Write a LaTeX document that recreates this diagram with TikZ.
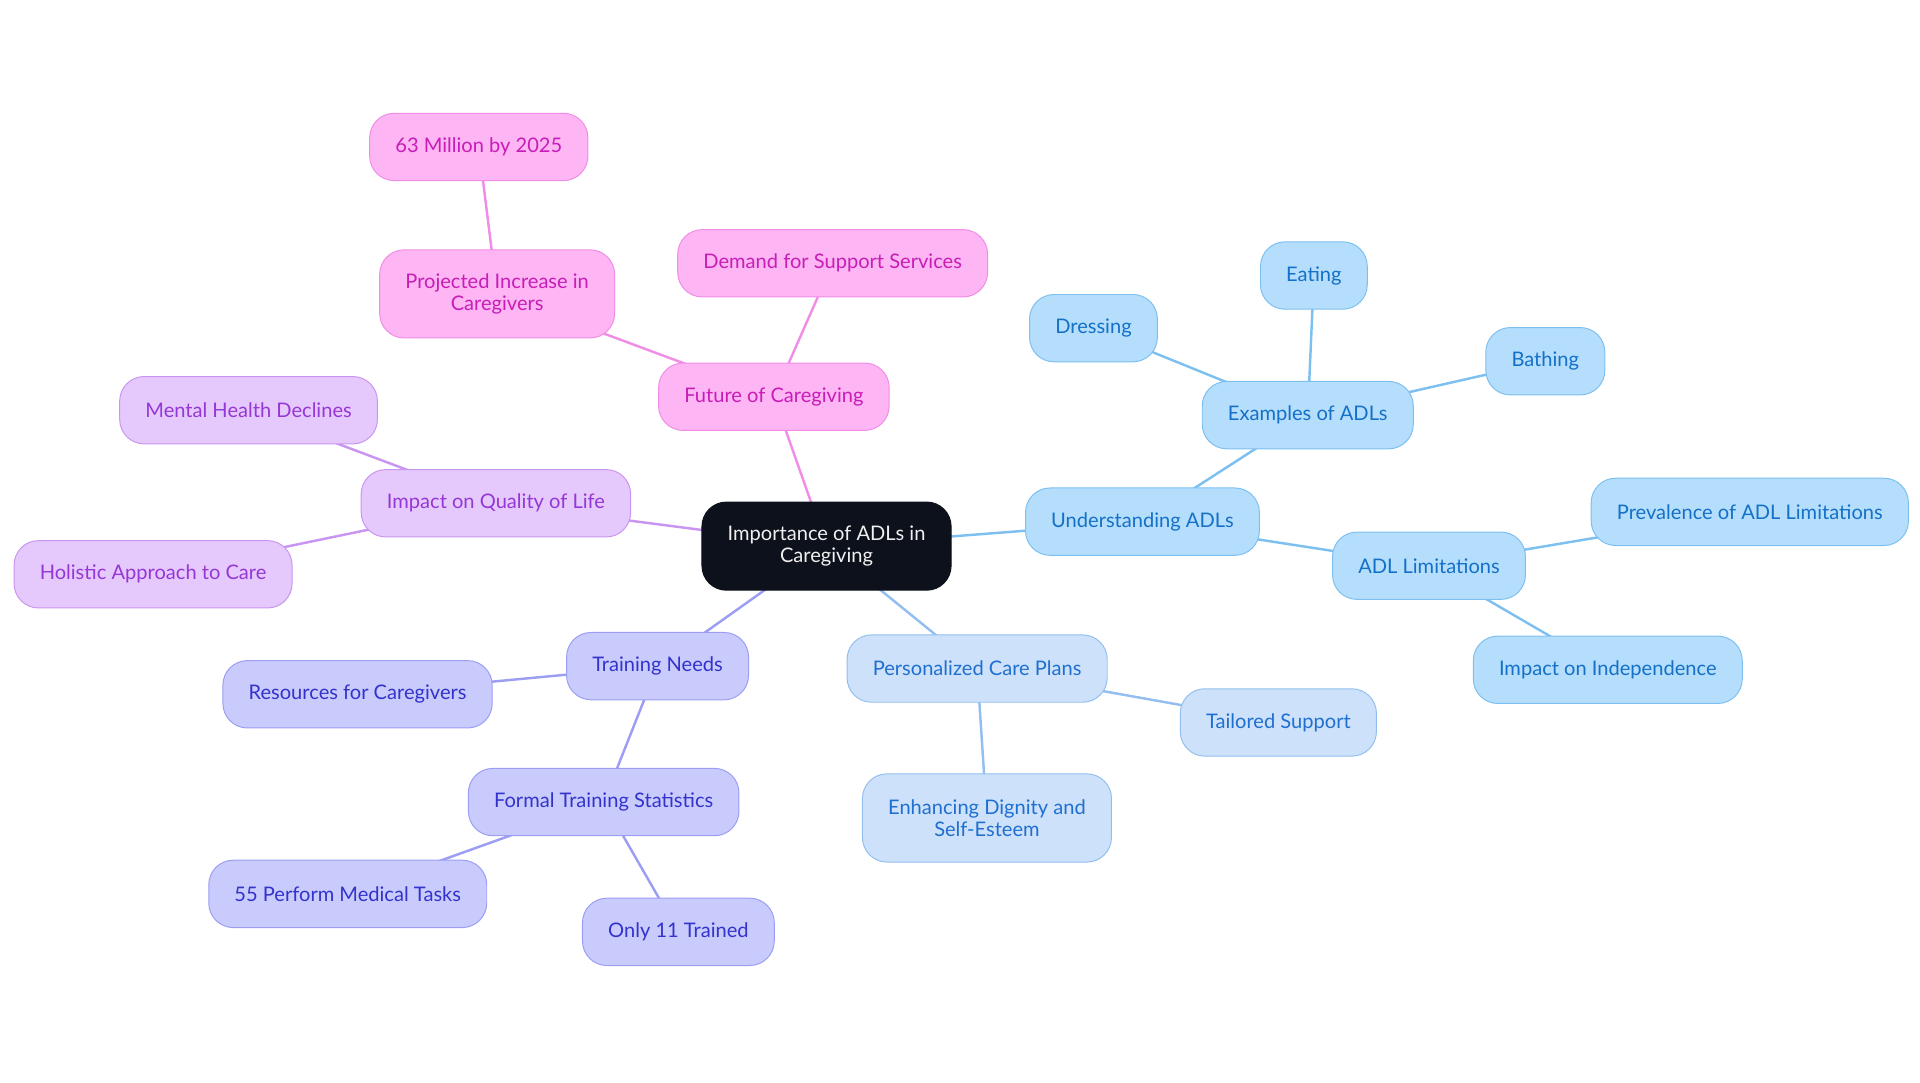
\documentclass[tikz,border=0pt]{standalone}
\usepackage{fontspec}
\setmainfont{Lato}
\usetikzlibrary{backgrounds}

\definecolor{rootfill}{HTML}{0C111B}
\definecolor{bluefill}{HTML}{B4DEFC}
\definecolor{blueline}{HTML}{7DC0F0}
\definecolor{bluetext}{HTML}{1570C7}
\definecolor{skyfill}{HTML}{CDE2FA}
\definecolor{skyline}{HTML}{92BFEF}
\definecolor{skytext}{HTML}{1F6FD0}
\definecolor{indfill}{HTML}{C9CBFC}
\definecolor{indline}{HTML}{9B9EF3}
\definecolor{indtext}{HTML}{3333CC}
\definecolor{vilfill}{HTML}{E6C9FC}
\definecolor{villine}{HTML}{C995F0}
\definecolor{viltext}{HTML}{9537D6}
\definecolor{pinkfill}{HTML}{FDB5F4}
\definecolor{pinkline}{HTML}{F08DE6}
\definecolor{pinktext}{HTML}{C81DB7}

\begin{document}
\begin{tikzpicture}[
    x=1pt, y=-1pt,
    box/.style={rounded corners=20pt, inner xsep=21pt, inner ysep=6pt, minimum height=55pt,
                align=center, font=\fontsize{16.4}{17.5}\selectfont, line width=0.8pt},
    tall/.style={minimum height=72pt},
    rootbox/.style={box, fill=rootfill, draw=rootfill, text=white!94!black},
    bluebox/.style={box, fill=bluefill, draw=blueline, text=bluetext},
    skybox/.style={box, fill=skyfill, draw=skyline, text=skytext},
    indbox/.style={box, fill=indfill, draw=indline, text=indtext},
    vilbox/.style={box, fill=vilfill, draw=villine, text=viltext},
    pinkbox/.style={box, fill=pinkfill, draw=pinkline, text=pinktext},
    link/.style={line width=2pt},
  ]
    \useasboundingbox (0,0) rectangle (1568,884);

    % === Root ===
    \node[rootbox, tall] (root) at (675,446) {Importance of ADLs in\\Caregiving};

    % === Understanding ADLs ===
    \node[bluebox] (und) at (933,426) {Understanding ADLs};
    \node[bluebox] (exa) at (1068,339) {Examples of ADLs};
    \node[bluebox] (eat) at (1073,225) {Eating};
    \node[bluebox] (dre) at (893,268) {Dressing};
    \node[bluebox] (bat) at (1262,295) {Bathing};
    \node[bluebox] (lim) at (1167,462) {ADL Limitations};
    \node[bluebox] (pre) at (1429,418) {Prevalence of ADL Limitations};
    \node[bluebox] (ind) at (1313,547) {Impact on Independence};

    % === Personalized Care Plans ===
    \node[skybox] (pcp) at (798,546) {Personalized Care Plans};
    \node[skybox] (tai) at (1044,590) {Tailored Support};
    \node[skybox, tall] (dig) at (806,668) {Enhancing Dignity and\\Self-Esteem};

    % === Training Needs ===
    \node[indbox] (trn) at (537,544) {Training Needs};
    \node[indbox] (res) at (292,567) {Resources for Caregivers};
    \node[indbox] (fts) at (493,655) {Formal Training Statistics};
    \node[indbox] (med) at (284,730) {55 Perform Medical Tasks};
    \node[indbox] (onl) at (554,761) {Only 11 Trained};

    % === Impact on Quality of Life ===
    \node[vilbox] (qol) at (405,411) {Impact on Quality of Life};
    \node[vilbox] (mhd) at (203,335) {Mental Health Declines};
    \node[vilbox] (hol) at (125,469) {Holistic Approach to Care};

    % === Future of Caregiving ===
    \node[pinkbox] (fut) at (632,324) {Future of Caregiving};
    \node[pinkbox, tall] (pro) at (406,240) {Projected Increase in\\Caregivers};
    \node[pinkbox] (dem) at (680,215) {Demand for Support Services};
    \node[pinkbox] (mil) at (391,120) {63 Million by 2025};

    % Links (behind the boxes, centre to centre)
    \begin{pgfonlayer}{background}
      \foreach \a/\b in {root/und, und/exa, exa/eat, exa/dre, exa/bat, und/lim, lim/pre, lim/ind}
        \draw[link, blueline] (\a.center) -- (\b.center);
      \foreach \a/\b in {root/pcp, pcp/tai, pcp/dig}
        \draw[link, skyline] (\a.center) -- (\b.center);
      \foreach \a/\b in {root/trn, trn/res, trn/fts, fts/med, fts/onl}
        \draw[link, indline] (\a.center) -- (\b.center);
      \foreach \a/\b in {root/qol, qol/mhd, qol/hol}
        \draw[link, villine] (\a.center) -- (\b.center);
      \foreach \a/\b in {root/fut, fut/pro, fut/dem, pro/mil}
        \draw[link, pinkline] (\a.center) -- (\b.center);
    \end{pgfonlayer}
  \end{tikzpicture}
\end{document}
